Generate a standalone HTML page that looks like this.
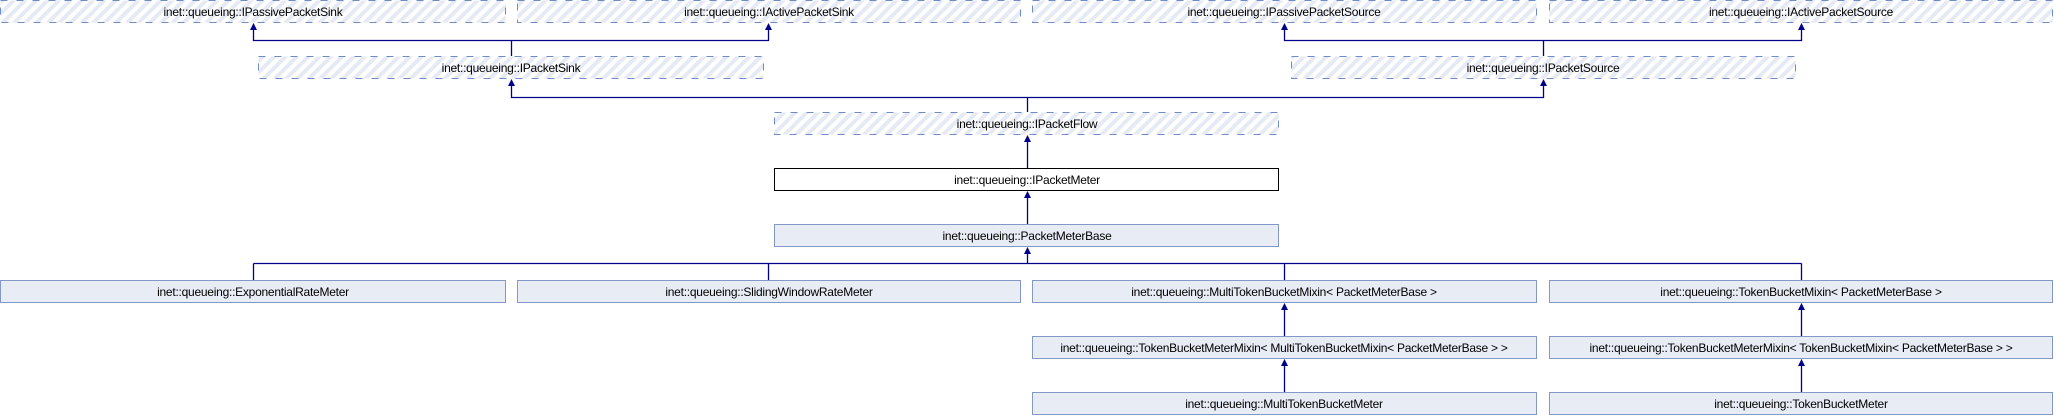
<!DOCTYPE html>
<html><head><meta charset="utf-8"><style>
html,body{margin:0;padding:0;background:#fff;}
svg{display:block;}
text{font-family:"Liberation Sans",sans-serif;font-size:12px;letter-spacing:-0.25px;fill:#000;text-anchor:middle;}
</style></head><body>
<svg width="2054" height="416" viewBox="0 0 2054 416" xmlns="http://www.w3.org/2000/svg">
<defs>
<pattern id="h" width="8" height="8" patternUnits="userSpaceOnUse" patternTransform="rotate(45)">
<rect width="8" height="8" fill="#fff"/><rect width="4" height="8" fill="#e6eaf4"/>
</pattern>
</defs>
<g fill="url(#h)" stroke="#6f8cc6" stroke-width="1" stroke-dasharray="7,9">
<rect x="0.5" y="0.5" width="505" height="22"/>
<rect x="517.5" y="0.5" width="503" height="22"/>
<rect x="1032.5" y="0.5" width="504" height="22"/>
<rect x="1549.5" y="0.5" width="503" height="22"/>
<rect x="258.5" y="56.5" width="505" height="22"/>
<rect x="1291.5" y="56.5" width="504" height="22"/>
<rect x="774.5" y="112.5" width="504" height="22"/>
</g>
<rect x="774.5" y="168.5" width="504" height="22" fill="#fff" stroke="#000"/>
<g fill="#e8ecf5" stroke="#8497c9">
<rect x="774.5" y="224.5" width="504" height="22"/>
<rect x="0.5" y="280.5" width="505" height="22"/>
<rect x="517.5" y="280.5" width="503" height="22"/>
<rect x="1032.5" y="280.5" width="504" height="22"/>
<rect x="1549.5" y="280.5" width="503" height="22"/>
<rect x="1032.5" y="336.5" width="504" height="22"/>
<rect x="1549.5" y="336.5" width="503" height="22"/>
<rect x="1032.5" y="392.5" width="504" height="22"/>
<rect x="1549.5" y="392.5" width="503" height="22"/>
</g>
<g stroke="#00008b" stroke-width="1.3" fill="none">
<path d="M253.5 29V40.5H768.5V29M511.5 40.5V56"/>
<path d="M1284.5 29V40.5H1801.5V29M1543.5 40.5V56"/>
<path d="M511.5 85V97.5H1543.5V85M1027.5 97.5V112"/>
<path d="M1027.5 141V168"/>
<path d="M1027.5 197V224"/>
<path d="M1027.5 253V263.5M253.5 263.5H1801.5M253.5 263.5V280M768.5 263.5V280M1284.5 263.5V280M1801.5 263.5V280"/>
<path d="M1284.5 309V336M1801.5 309V336M1284.5 365V392M1801.5 365V392"/>
</g>
<g fill="#00008b">
<path d="M250 30L253.5 23L257 30Z"/><path d="M765 30L768.5 23L772 30Z"/>
<path d="M1281 30L1284.5 23L1288 30Z"/><path d="M1798 30L1801.5 23L1805 30Z"/>
<path d="M508 86L511.5 79L515 86Z"/><path d="M1540 86L1543.5 79L1547 86Z"/>
<path d="M1024 142L1027.5 135L1031 142Z"/>
<path d="M1024 198L1027.5 191L1031 198Z"/>
<path d="M1024 254L1027.5 247L1031 254Z"/>
<path d="M1281 310L1284.5 303L1288 310Z"/><path d="M1798 310L1801.5 303L1805 310Z"/>
<path d="M1281 366L1284.5 359L1288 366Z"/><path d="M1798 366L1801.5 359L1805 366Z"/>
</g>
<text x="253" y="16">inet::queueing::IPassivePacketSink</text>
<text x="769" y="16">inet::queueing::IActivePacketSink</text>
<text x="1284" y="16">inet::queueing::IPassivePacketSource</text>
<text x="1801" y="16">inet::queueing::IActivePacketSource</text>
<text x="511" y="72">inet::queueing::IPacketSink</text>
<text x="1543" y="72">inet::queueing::IPacketSource</text>
<text x="1027" y="128">inet::queueing::IPacketFlow</text>
<text x="1027" y="184">inet::queueing::IPacketMeter</text>
<text x="1027" y="240">inet::queueing::PacketMeterBase</text>
<text x="253" y="296">inet::queueing::ExponentialRateMeter</text>
<text x="769" y="296">inet::queueing::SlidingWindowRateMeter</text>
<text x="1284" y="296">inet::queueing::MultiTokenBucketMixin&lt; PacketMeterBase &gt;</text>
<text x="1801" y="296">inet::queueing::TokenBucketMixin&lt; PacketMeterBase &gt;</text>
<text x="1284" y="352">inet::queueing::TokenBucketMeterMixin&lt; MultiTokenBucketMixin&lt; PacketMeterBase &gt; &gt;</text>
<text x="1801" y="352">inet::queueing::TokenBucketMeterMixin&lt; TokenBucketMixin&lt; PacketMeterBase &gt; &gt;</text>
<text x="1284" y="408">inet::queueing::MultiTokenBucketMeter</text>
<text x="1801" y="408">inet::queueing::TokenBucketMeter</text>
</svg>
</body></html>
